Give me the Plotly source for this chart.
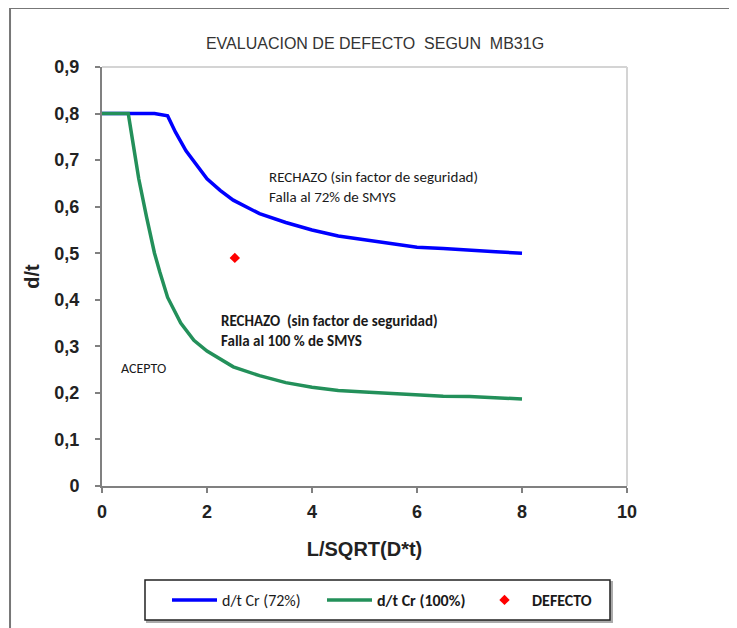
import plotly.graph_objects as go

# curve readings (L/SQRT(D*t) vs d/t)
x_72 = [0, 0.5, 1.0, 1.25, 1.4, 1.6, 1.8, 2.0, 2.25, 2.5, 3.0, 3.5, 4.0, 4.5, 5.0, 5.5, 6.0, 6.5, 7.0, 7.5, 8.0]
y_72 = [0.8, 0.8, 0.8, 0.795, 0.76, 0.72, 0.69, 0.66, 0.635, 0.614, 0.585, 0.566, 0.55, 0.537, 0.529, 0.521, 0.513, 0.51, 0.506, 0.503, 0.50]

x_100 = [0, 0.5, 0.6, 0.7, 0.85, 1.0, 1.1, 1.25, 1.5, 1.75, 2.0, 2.5, 3.0, 3.5, 4.0, 4.5, 5.0, 5.5, 6.0, 6.5, 7.0, 7.5, 8.0]
y_100 = [0.8, 0.8, 0.73, 0.66, 0.577, 0.5, 0.46, 0.405, 0.35, 0.313, 0.29, 0.256, 0.237, 0.222, 0.212, 0.205, 0.202, 0.199, 0.196, 0.193, 0.192, 0.19, 0.187]

defecto_x = [2.53]
defecto_y = [0.49]

x_ticks = [0, 2, 4, 6, 8, 10]
y_ticks = [0, 0.1, 0.2, 0.3, 0.4, 0.5, 0.6, 0.7, 0.8, 0.9]
y_labels = ["0", "0,1", "0,2", "0,3", "0,4", "0,5", "0,6", "0,7", "0,8", "0,9"]

fig = go.Figure()
fig.add_trace(go.Scatter(x=x_72, y=y_72, mode="lines", name="d/t Cr (72%)",
                         line=dict(color="#0000ff", width=3.5)))
fig.add_trace(go.Scatter(x=x_100, y=y_100, mode="lines", name="<b>d/t Cr (100%)</b>",
                         line=dict(color="#23905a", width=3.5)))
fig.add_trace(go.Scatter(x=defecto_x, y=defecto_y, mode="markers", name="<b>DEFECTO</b>",
                         marker=dict(color="#ff0000", symbol="diamond", size=8)))

txt = dict(family="Calibri, Carlito, Open Sans, sans-serif", size=15, color="#1a1a1a")
fig.add_annotation(x=3.15, y=0.643, xanchor="left", yanchor="middle", showarrow=False, align="left",
                   text="RECHAZO (sin factor de seguridad)<br>Falla al 72% de SMYS", font=txt)
fig.add_annotation(x=2.22, y=0.332, xanchor="left", yanchor="middle", showarrow=False, align="left",
                   text="<b>RECHAZO  (sin factor de seguridad)<br>Falla al 100 % de SMYS</b>", font=txt)
fig.add_annotation(x=0.32, y=0.253, xanchor="left", yanchor="middle", showarrow=False,
                   text="ACEPTO", font=dict(txt, size=14))

# light frame on top / right, outer border of the chart
fig.add_shape(type="line", xref="paper", yref="paper", x0=0, x1=1, y0=1, y1=1,
              line=dict(color="#d4d4d4", width=2))
fig.add_shape(type="line", xref="paper", yref="paper", x0=1, x1=1, y0=0, y1=1,
              line=dict(color="#d4d4d4", width=2))
fig.add_shape(type="rect", xref="paper", yref="paper", x0=-0.1752, x1=1.2019, y0=-0.4, y1=1.1408,
              line=dict(color="#777777", width=2), layer="below")
# legend box with shadow
fig.add_shape(type="rect", xref="paper", yref="paper", x0=0.0857, x1=0.9714, y0=-0.3246, y1=-0.2291,
              line=dict(color="#aaaaaa", width=2), fillcolor="#aaaaaa", layer="below")
fig.add_shape(type="rect", xref="paper", yref="paper", x0=0.0819, x1=0.9676, y0=-0.3198, y1=-0.2243,
              line=dict(color="#222222", width=1.5), fillcolor="white", layer="below")

tick_font = dict(family="Arial, Liberation Sans", size=18, color="#222222", weight="bold")
fig.update_xaxes(range=[0, 10], tickvals=x_ticks, showgrid=False, zeroline=False, automargin=False,
                 showline=True, linecolor="#808080", linewidth=2,
                 ticks="outside", ticklen=5, tickcolor="#808080", tickwidth=2,
                 tickfont=tick_font, ticklabelstandoff=3,
                 title=dict(text="L/SQRT(D*t)", font=dict(tick_font, size=20), standoff=21))
fig.update_yaxes(range=[0, 0.9], tickvals=y_ticks, ticktext=y_labels, showgrid=False, zeroline=False,
                 automargin=False,
                 showline=True, linecolor="#808080", linewidth=2,
                 ticks="outside", ticklen=5, tickcolor="#808080", tickwidth=2,
                 tickfont=tick_font, ticklabelstandoff=12,
                 title=dict(text="d/t", font=dict(tick_font, size=20), standoff=9))

# page body adds an 8px offset, so everything is placed 8px up/left
fig.update_layout(
    width=737, height=628,
    margin=dict(l=94, r=118, t=59, b=150, autoexpand=False),
    paper_bgcolor="white", plot_bgcolor="white",
    separators=",.",
    title=dict(text="EVALUACION DE DEFECTO  SEGUN  MB31G", x=367 / 737, xanchor="center",
               y=1 - 35 / 628, yanchor="middle",
               font=dict(family="Liberation Sans, Arial, sans-serif", size=16, color="#333333")),
    legend=dict(orientation="h", xref="container", yref="container",
                x=159 / 737, y=1 - 592 / 628, xanchor="left", yanchor="middle",
                borderwidth=0, bgcolor="rgba(0,0,0,0)", itemwidth=45,
                entrywidth=95, entrywidthmode="pixels",
                font=dict(family="Calibri, Carlito, Open Sans, sans-serif", size=16, color="#1a1a1a")),
    showlegend=True,
)

fig.write_html("out.html")
